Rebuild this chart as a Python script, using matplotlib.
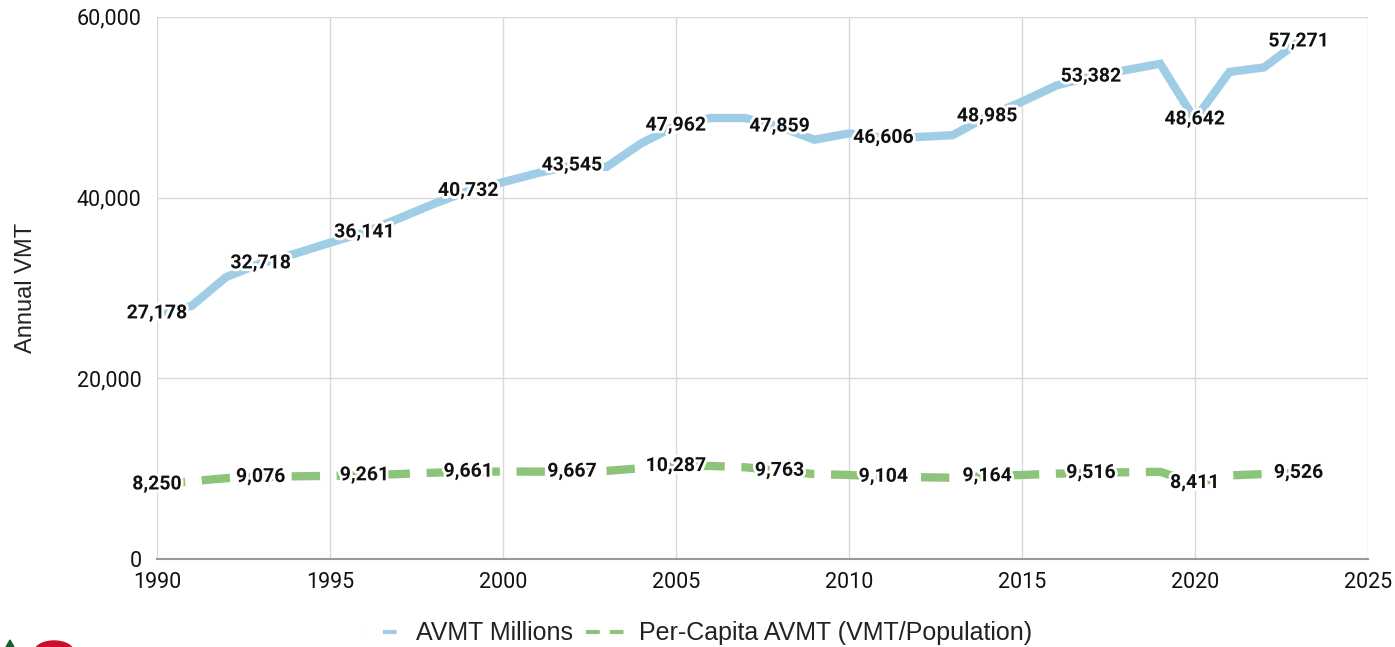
import numpy as np
import matplotlib.pyplot as plt
import matplotlib.patheffects as pe
from matplotlib.lines import Line2D
from matplotlib.patches import Ellipse, Polygon
from matplotlib.ticker import FuncFormatter

years = list(range(1990, 2024))

avmt_millions = [27178, 28000, 31200, 32718, 33800, 35000, 36141, 37700, 39300, 40732,
                 41700, 42700, 43545, 43400, 46000, 47962, 48800, 48800, 47859, 46400,
                 47100, 46606, 46700, 46900, 48985, 50600, 52400, 53382, 54100, 54800,
                 48642, 53900, 54400, 57271]

per_capita = [8250, 8600, 8950, 9076, 9150, 9200, 9261, 9400, 9550, 9661,
              9680, 9670, 9667, 9750, 10050, 10287, 10300, 10150, 9763, 9400,
              9300, 9104, 9050, 9000, 9164, 9300, 9450, 9516, 9600, 9650,
              8411, 9250, 9400, 9526]

label_years = list(range(1990, 2024, 3))
series_names = ['AVMT Millions', 'Per-Capita AVMT (VMT/Population)']

blue = '#9fcde6'
green = '#8cc47c'

fig = plt.figure(figsize=(13.95, 6.47), dpi=100)
ax = fig.add_axes([0.1125, 0.136, 0.868, 0.838])

ax.plot(years, avmt_millions, color=blue, linewidth=6, solid_joinstyle='miter', zorder=3)
ax.plot(years, per_capita, color=green, linewidth=6, linestyle=(0, (3.4, 2.0)), zorder=3)

halo = [pe.withStroke(linewidth=4, foreground='white')]
for y, v in zip(years, avmt_millions):
    if y in label_years:
        ax.text(y, v, f'{v:,}', ha='center', va='center', fontsize=14,
                fontweight='bold', family='Roboto', color='#111111',
                path_effects=halo, zorder=4)
for y, v in zip(years, per_capita):
    if y in label_years:
        ax.text(y, v, f'{v:,}', ha='center', va='center', fontsize=14,
                fontweight='bold', family='Roboto', color='#111111',
                path_effects=halo, zorder=4)

ax.set_xlim(1990, 2025)
ax.set_ylim(0, 60000)
ax.set_xticks(range(1990, 2026, 5))
ax.set_yticks([0, 20000, 40000, 60000])
ax.yaxis.set_major_formatter(FuncFormatter(lambda v, p: f'{int(v):,}'))
ax.tick_params(axis='both', length=0, labelsize=15.5, labelcolor='#111111')
ax.tick_params(axis='x', pad=9)
ax.tick_params(axis='y', pad=11)
for lbl in ax.get_xticklabels() + ax.get_yticklabels():
    lbl.set_family('Roboto')

ax.grid(True, color='#d9d9d9', linewidth=1)
ax.set_axisbelow(True)
for s in ['top', 'right', 'left']:
    ax.spines[s].set_visible(False)
ax.spines['bottom'].set_color('#999999')
ax.spines['bottom'].set_linewidth(1.5)

ax.set_ylabel('Annual VMT', fontsize=17, family='Liberation Sans', color='#222222', labelpad=29)

# legend handles: a single short dash for the solid series, two dashes for the dashed one
h_blue = Line2D([], [], color=blue, linewidth=3, linestyle=(0, (0.01, 5.0, 3.3, 50)))
h_green = Line2D([], [], color=green, linewidth=3, linestyle=(0, (3.3, 2.4)))
leg = fig.legend(handles=[h_blue, h_green], labels=series_names, loc='center',
                 bbox_to_anchor=(0.5, 0.021), ncol=2, frameon=False,
                 prop={'family': 'Liberation Sans', 'size': 18},
                 handlelength=1.75, columnspacing=0.5, handletextpad=0.4)
for t in leg.get_texts():
    t.set_color('#222222')

# partial logo at bottom-left corner
fig.patches.append(Ellipse((54 / 1395, -4 / 647), 38 / 1395, 20 / 647,
                           transform=fig.transFigure, color='#c8102e'))
fig.patches.append(Polygon([[6 / 1395, 0], [14 / 1395, 0], [10 / 1395, 7 / 647]],
                           closed=True, transform=fig.transFigure, color='#1f5c2e'))

fig.savefig('out.png', dpi=100)
